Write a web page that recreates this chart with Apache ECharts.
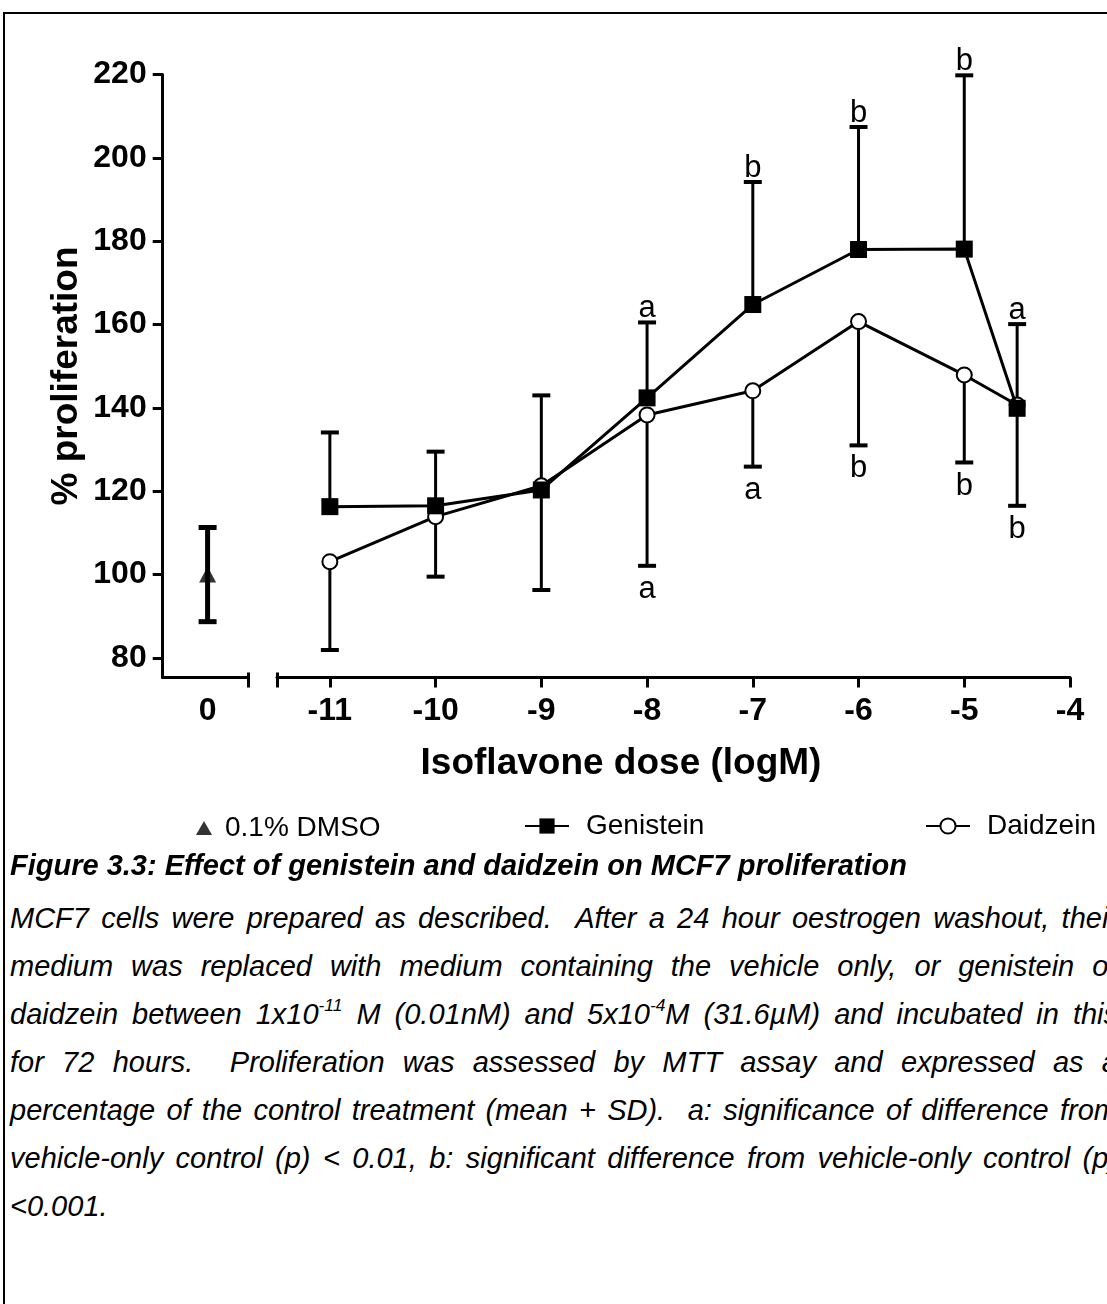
<!DOCTYPE html>
<html>
<head>
<meta charset="utf-8">
<script src="https://cdn.jsdelivr.net/npm/echarts@6/dist/echarts.min.js"></script>
<style>
  html, body { margin:0; padding:0; width:1107px; height:1304px; overflow:hidden; background:#fff; }
  #frame { position:absolute; left:3px; top:12px; width:1300px; height:1400px; border-left:2px solid #000; border-top:2px solid #000; }
  #chart { position:absolute; left:0; top:0; width:1107px; height:860px; }
  .cap { position:absolute; left:10px; font-family:"Liberation Sans", Arial, sans-serif; color:#000; white-space:nowrap; }
  #figtitle { top:848px; font-size:29px; line-height:34px; font-weight:bold; font-style:italic; }
  #para { top:894px; width:1108px; font-size:29px; font-style:italic; }
  #para div { height:48px; line-height:48px; text-align:justify; text-align-last:justify; white-space:normal; }
  #para div.last { text-align:left; text-align-last:left; }
  sup { font-size:0.6em; line-height:0; vertical-align:0.75em; }
</style>
</head>
<body>
<div id="frame"></div>
<div id="chart"></div>
<div id="figtitle" class="cap">Figure 3.3: Effect of genistein and daidzein on MCF7 proliferation</div>
<div id="para" class="cap">
  <div>MCF7 cells were prepared as described.&nbsp; After a 24 hour oestrogen washout, their</div>
  <div>medium was replaced with medium containing the vehicle only, or genistein or</div>
  <div>daidzein between 1x10<sup>-11</sup> M (0.01nM) and 5x10<sup>-4</sup>M (31.6µM) and incubated in this</div>
  <div>for 72 hours.&nbsp; Proliferation was assessed by MTT assay and expressed as a</div>
  <div>percentage of the control treatment (mean + SD).&nbsp; a: significance of difference from</div>
  <div>vehicle-only control (p) &lt; 0.01, b: significant difference from vehicle-only control (p)</div>
  <div class="last">&lt;0.001.</div>
</div>
<script>
// ---------------- data ----------------
const doses = [-11, -10, -9, -8, -7, -6, -5, -4.5];
const genisteinMean = [116.3, 116.5, 120.3, 142.4, 164.8, 178.0, 178.1, 139.9];
const genisteinSD   = [17.8, 13.0, 22.7, 18.1, 29.4, 29.4, 41.7, 20.2];
const genisteinSig  = ['', '', '', 'a', 'b', 'b', 'b', 'a'];
const daidzeinMean  = [103.1, 113.9, 121.3, 138.3, 144.1, 160.7, 147.9, 140.7];
const daidzeinSD    = [21.2, 14.4, 25.0, 36.2, 18.2, 29.7, 21.0, 24.2];
const daidzeinSig   = ['', '', '', 'a', 'a', 'b', 'b', 'b'];
const controlDose = [0];
const controlMean = [100];
const controlSD   = [11.3];
const yTicks = [80, 100, 120, 140, 160, 180, 200, 220];
const xTicks = [-11, -10, -9, -8, -7, -6, -5, -4];
const controlTicks = [0];
const controlBreak = [0.9];
const doseBreak = [-11.5];
const seriesNames = ['0.1% DMSO', 'Genistein', 'Daidzein'];
const yName = '% proliferation';
const xName = 'Isoflavone dose (logM)';

// ---------------- chart ----------------
const FONT = '"Liberation Sans", Arial, sans-serif';
const chart = echarts.init(document.getElementById('chart'), null, { renderer: 'canvas' });

function errorBarSeries(xAxisIndex, yAxisIndex, data, capLo, capHi, stemW, capW, capHalf) {
  return {
    type: 'custom', xAxisIndex, yAxisIndex, z: 1, silent: true,
    data,
    renderItem: function (params, api) {
      const x = api.value(0);
      const pLo = api.coord([x, api.value(1)]);
      const pHi = api.coord([x, api.value(2)]);
      const children = [{
        type: 'line',
        shape: { x1: pLo[0], y1: pLo[1], x2: pHi[0], y2: pHi[1] },
        style: { stroke: '#000', lineWidth: stemW }
      }];
      if (capLo) children.push({ type: 'line', shape: { x1: pLo[0] - capHalf, y1: pLo[1], x2: pLo[0] + capHalf, y2: pLo[1] }, style: { stroke: '#000', lineWidth: capW } });
      if (capHi) children.push({ type: 'line', shape: { x1: pHi[0] - capHalf, y1: pHi[1], x2: pHi[0] + capHalf, y2: pHi[1] }, style: { stroke: '#000', lineWidth: capW } });
      return { type: 'group', children };
    }
  };
}

function sigSeries(xs, values, labels, above) {
  const pts = [], txt = [];
  xs.forEach((x, i) => { if (labels[i]) { pts.push([x, values[i]]); txt.push(labels[i]); } });
  return {
    type: 'custom', xAxisIndex: 1, yAxisIndex: 1, z: 5, silent: true,
    data: pts,
    renderItem: function (params, api) {
      const p = api.coord([api.value(0), api.value(1)]);
      return {
        type: 'text',
        x: p[0], y: above ? p[1] + 2 : p[1] + 8,
        style: {
          text: txt[params.dataIndex], fontSize: 31, fontFamily: FONT, fill: '#000',
          align: 'center', verticalAlign: above ? 'bottom' : 'top'
        }
      };
    }
  };
}

const axisLineStyle = { show: true, onZero: false, lineStyle: { color: '#000', width: 3 } };
const tickStyle = { color: '#000', width: 3 };
const tickLabel = { color: '#000', fontSize: 32, fontWeight: 'bold', fontFamily: FONT };

function breakAxis(gridIndex, min, max, values) {
  // inner half of the axis-break marks (the outer half is drawn by the main axis ticks)
  return {
    type: 'value', gridIndex, min, max, position: 'bottom', offset: 0,
    axisLine: { show: false, onZero: false },
    axisTick: { show: true, inside: true, length: 5, lineStyle: tickStyle, customValues: values },
    axisLabel: { show: false }, splitLine: { show: false }
  };
}

const option = {
  animation: false,
  backgroundColor: 'transparent',
  textStyle: { fontFamily: FONT },
  grid: [
    { left: 162.7, top: 74.5, width: 85.3, height: 603, containLabel: false, outerBoundsMode: 'none' },
    { left: 277, top: 74.5, width: 793, height: 603, containLabel: false, outerBoundsMode: 'none' }
  ],
  title: {
    text: xName, left: 616, top: 740, textAlign: 'center',
    textStyle: { fontSize: 37, fontWeight: 'bold', color: '#000', fontFamily: FONT }
  },
  xAxis: [
    {
      type: 'value', gridIndex: 0, min: -1, max: 0.9, position: 'bottom',
      axisLine: axisLineStyle,
      axisTick: { show: true, inside: false, length: 10, lineStyle: tickStyle, customValues: controlBreak },
      axisLabel: Object.assign({ margin: 18, customValues: controlTicks, formatter: v => String(v) }, tickLabel),
      splitLine: { show: false }
    },
    {
      type: 'value', gridIndex: 1, min: -11.5, max: -4, position: 'bottom',
      axisLine: axisLineStyle,
      axisTick: { show: true, inside: false, length: 10, lineStyle: tickStyle, customValues: doseBreak.concat(xTicks) },
      axisLabel: Object.assign({ margin: 18, customValues: xTicks, formatter: v => String(v) }, tickLabel),
      splitLine: { show: false }
    },
    breakAxis(0, -1, 0.9, controlBreak),
    breakAxis(1, -11.5, -4, doseBreak)
  ],
  yAxis: [
    {
      type: 'value', gridIndex: 0, min: 75.3, max: 220,
      axisLine: axisLineStyle,
      axisTick: { show: true, inside: false, length: 10, lineStyle: tickStyle, customValues: yTicks },
      axisLabel: Object.assign({ margin: 16, customValues: yTicks }, tickLabel),
      splitLine: { show: false },
      name: yName, nameLocation: 'middle', nameGap: 77,
      nameTextStyle: { fontSize: 37, fontWeight: 'bold', color: '#000', fontFamily: FONT }
    },
    {
      type: 'value', gridIndex: 1, min: 75.3, max: 220, show: false
    }
  ],
  legend: [
    { data: [seriesNames[0]], left: 196, top: 814, padding: 0, itemWidth: 16, itemHeight: 14,
      textStyle: { fontSize: 28, color: '#000', fontFamily: FONT, padding: [0, 0, 0, 8] } },
    { data: [seriesNames[1]], left: 524, top: 812, padding: 0, itemWidth: 44, itemHeight: 19,
      textStyle: { fontSize: 28, color: '#000', fontFamily: FONT, padding: [0, 0, 0, 12] } },
    { data: [seriesNames[2]], left: 925, top: 812, padding: 0, itemWidth: 44, itemHeight: 19,
      textStyle: { fontSize: 28, color: '#000', fontFamily: FONT, padding: [0, 0, 0, 12] } }
  ],
  series: [
    // error bars
    errorBarSeries(0, 0, controlDose.map((x, i) => [x, controlMean[i] - controlSD[i], controlMean[i] + controlSD[i]]), true, true, 5, 5, 9),
    errorBarSeries(1, 1, doses.map((x, i) => [x, daidzeinMean[i] - daidzeinSD[i], daidzeinMean[i]]), true, false, 3, 4, 9),
    errorBarSeries(1, 1, doses.map((x, i) => [x, genisteinMean[i], genisteinMean[i] + genisteinSD[i]]), false, true, 3, 4, 9),
    // main series
    {
      name: seriesNames[0], type: 'scatter', xAxisIndex: 0, yAxisIndex: 0, z: 3,
      symbol: 'triangle', symbolSize: [17, 16],
      itemStyle: { color: '#000' },
      data: controlDose.map((x, i) => [x, controlMean[i]])
    },
    {
      name: seriesNames[2], type: 'line', xAxisIndex: 1, yAxisIndex: 1, z: 3,
      symbol: 'emptyCircle', symbolSize: 15, showAllSymbol: true,
      itemStyle: { color: '#000', borderColor: '#000', borderWidth: 3 },
      lineStyle: { color: '#000', width: 3 },
      data: doses.map((x, i) => [x, daidzeinMean[i]])
    },
    {
      name: seriesNames[1], type: 'line', xAxisIndex: 1, yAxisIndex: 1, z: 4,
      symbol: 'rect', symbolSize: 17, showAllSymbol: true,
      itemStyle: { color: '#000' },
      lineStyle: { color: '#000', width: 3 },
      data: doses.map((x, i) => [x, genisteinMean[i]])
    },
    // significance letters
    sigSeries(doses, doses.map((x, i) => genisteinMean[i] + genisteinSD[i]), genisteinSig, true),
    sigSeries(doses, doses.map((x, i) => daidzeinMean[i] - daidzeinSD[i]), daidzeinSig, false)
  ]
};
chart.setOption(option);
</script>
</body>
</html>
